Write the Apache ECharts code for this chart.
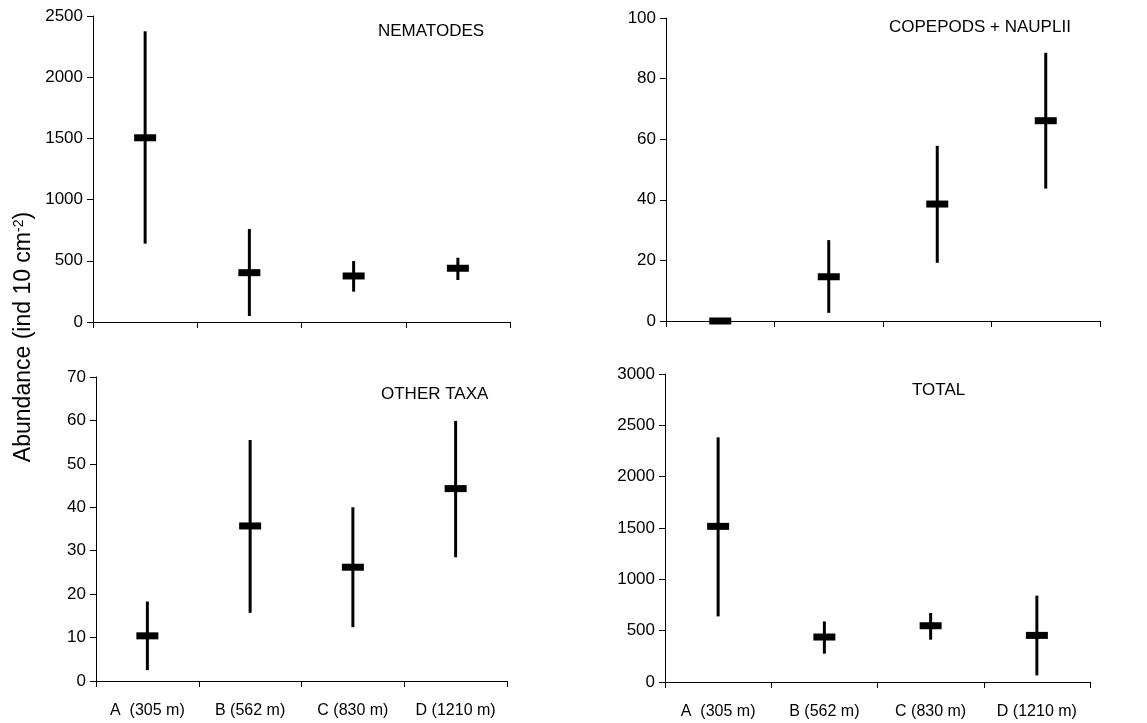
<!DOCTYPE html>
<html>
<head>
<meta charset="utf-8">
<script src="https://cdn.jsdelivr.net/npm/echarts@6/dist/echarts.min.js"></script>
<style>
html,body{margin:0;padding:0;background:#fff;}
#chart{width:1147px;height:723px;}
</style>
</head>
<body>
<div id="chart"></div>
<script>
var categories = ['A  (305 m)', 'B (562 m)', 'C (830 m)', 'D (1210 m)'];

var nematodesMean = [1505, 403, 376, 439];
var nematodesLow  = [640, 49, 248, 343];
var nematodesHigh = [2375, 760, 498, 525];

var copepodsMean = [0, 14.6, 38.6, 66.1];
var copepodsLow  = [0, 2.7, 19.2, 43.7];
var copepodsHigh = [0, 26.7, 57.8, 88.5];

var otherMean = [10.4, 35.7, 26.2, 44.3];
var otherLow  = [2.5, 15.7, 12.4, 28.5];
var otherHigh = [18.3, 55.5, 40.0, 59.9];

var totalMean = [1516, 438, 548, 454];
var totalLow  = [639, 276, 412, 64];
var totalHigh = [2383, 590, 672, 841];

var panelTitles = ['NEMATODES', 'COPEPODS + NAUPLII', 'OTHER TAXA', 'TOTAL'];
var yMax = [2500, 100, 70, 3000];
var yStep = [500, 20, 10, 500];

var FONT = 'Liberation Sans, Arial, sans-serif';

function build(mean, low, high) {
  return mean.map(function (m, i) { return [i, m, low[i], high[i]]; });
}

function renderItem(params, api) {
  var x = api.value(0);
  var pMean = api.coord([x, api.value(1)]);
  var pLow = api.coord([x, api.value(2)]);
  var pHigh = api.coord([x, api.value(3)]);
  return {
    type: 'group',
    children: [
      { type: 'line', shape: { x1: pMean[0], y1: pLow[1], x2: pMean[0], y2: pHigh[1] },
        style: { stroke: '#000', lineWidth: 3 } },
      { type: 'rect', shape: { x: pMean[0] - 11, y: pMean[1] - 3.5, width: 22, height: 7 },
        style: { fill: '#000' } }
    ]
  };
}

var grids = [
  { left: 93, right: 637, top: 16, bottom: 401 },
  { left: 666, right: 47, top: 18, bottom: 402 },
  { left: 96, right: 640, top: 377, bottom: 42 },
  { left: 665, right: 57, top: 374, bottom: 41 }
];

var datasets = [
  build(nematodesMean, nematodesLow, nematodesHigh),
  build(copepodsMean, copepodsLow, copepodsHigh),
  build(otherMean, otherLow, otherHigh),
  build(totalMean, totalLow, totalHigh)
];

var xAxes = [], yAxes = [], series = [];
for (var i = 0; i < 4; i++) {
  xAxes.push({
    type: 'category', gridIndex: i, data: categories, boundaryGap: true,
    axisLine: { lineStyle: { color: '#000', width: 1 } },
    axisTick: { show: true, length: 6, lineStyle: { color: '#000' } },
    axisLabel: { show: i >= 2, interval: 0, hideOverlap: false, color: '#000', fontSize: 16, fontFamily: FONT, margin: 22 },
    splitLine: { show: false }
  });
  yAxes.push({
    type: 'value', gridIndex: i, min: 0, max: yMax[i], interval: yStep[i],
    axisLine: { show: true, lineStyle: { color: '#000', width: 1 } },
    axisTick: { show: true, length: 6, lineStyle: { color: '#000' } },
    axisLabel: { color: '#000', fontSize: 17, fontFamily: FONT, margin: 10,
      formatter: function (v) { return String(v); } },
    splitLine: { show: false }
  });
  series.push({
    type: 'custom', xAxisIndex: i, yAxisIndex: i, data: datasets[i],
    renderItem: renderItem, clip: false, z: 5
  });
}

var titlePos = [
  { left: 378, top: 23 },
  { left: 889, top: 19 },
  { left: 381, top: 386 },
  { left: 912, top: 382 }
];
var titles = panelTitles.map(function (t, i) {
  return { text: t, left: titlePos[i].left, top: titlePos[i].top, padding: 0,
    textStyle: { fontSize: 17, fontWeight: 'normal', color: '#000', fontFamily: FONT } };
});

var chart = echarts.init(document.getElementById('chart'));
chart.setOption({
  backgroundColor: '#fff',
  animation: false,
  title: titles,
  grid: grids,
  xAxis: xAxes,
  yAxis: yAxes,
  series: series,
  graphic: [{
    type: 'text',
    x: 24, y: 337,
    rotation: Math.PI / 2,
    style: {
      text: '{a|Abundance (ind 10 cm}{s|-2}{a|)}',
      fill: '#000',
      align: 'center',
      verticalAlign: 'middle',
      rich: {
        a: { fontSize: 23, fontFamily: FONT, fill: '#000' },
        s: { fontSize: 14, fontFamily: FONT, fill: '#000', verticalAlign: 'top', padding: [0, 0, 10, 0] }
      }
    }
  }]
});
</script>
</body>
</html>
